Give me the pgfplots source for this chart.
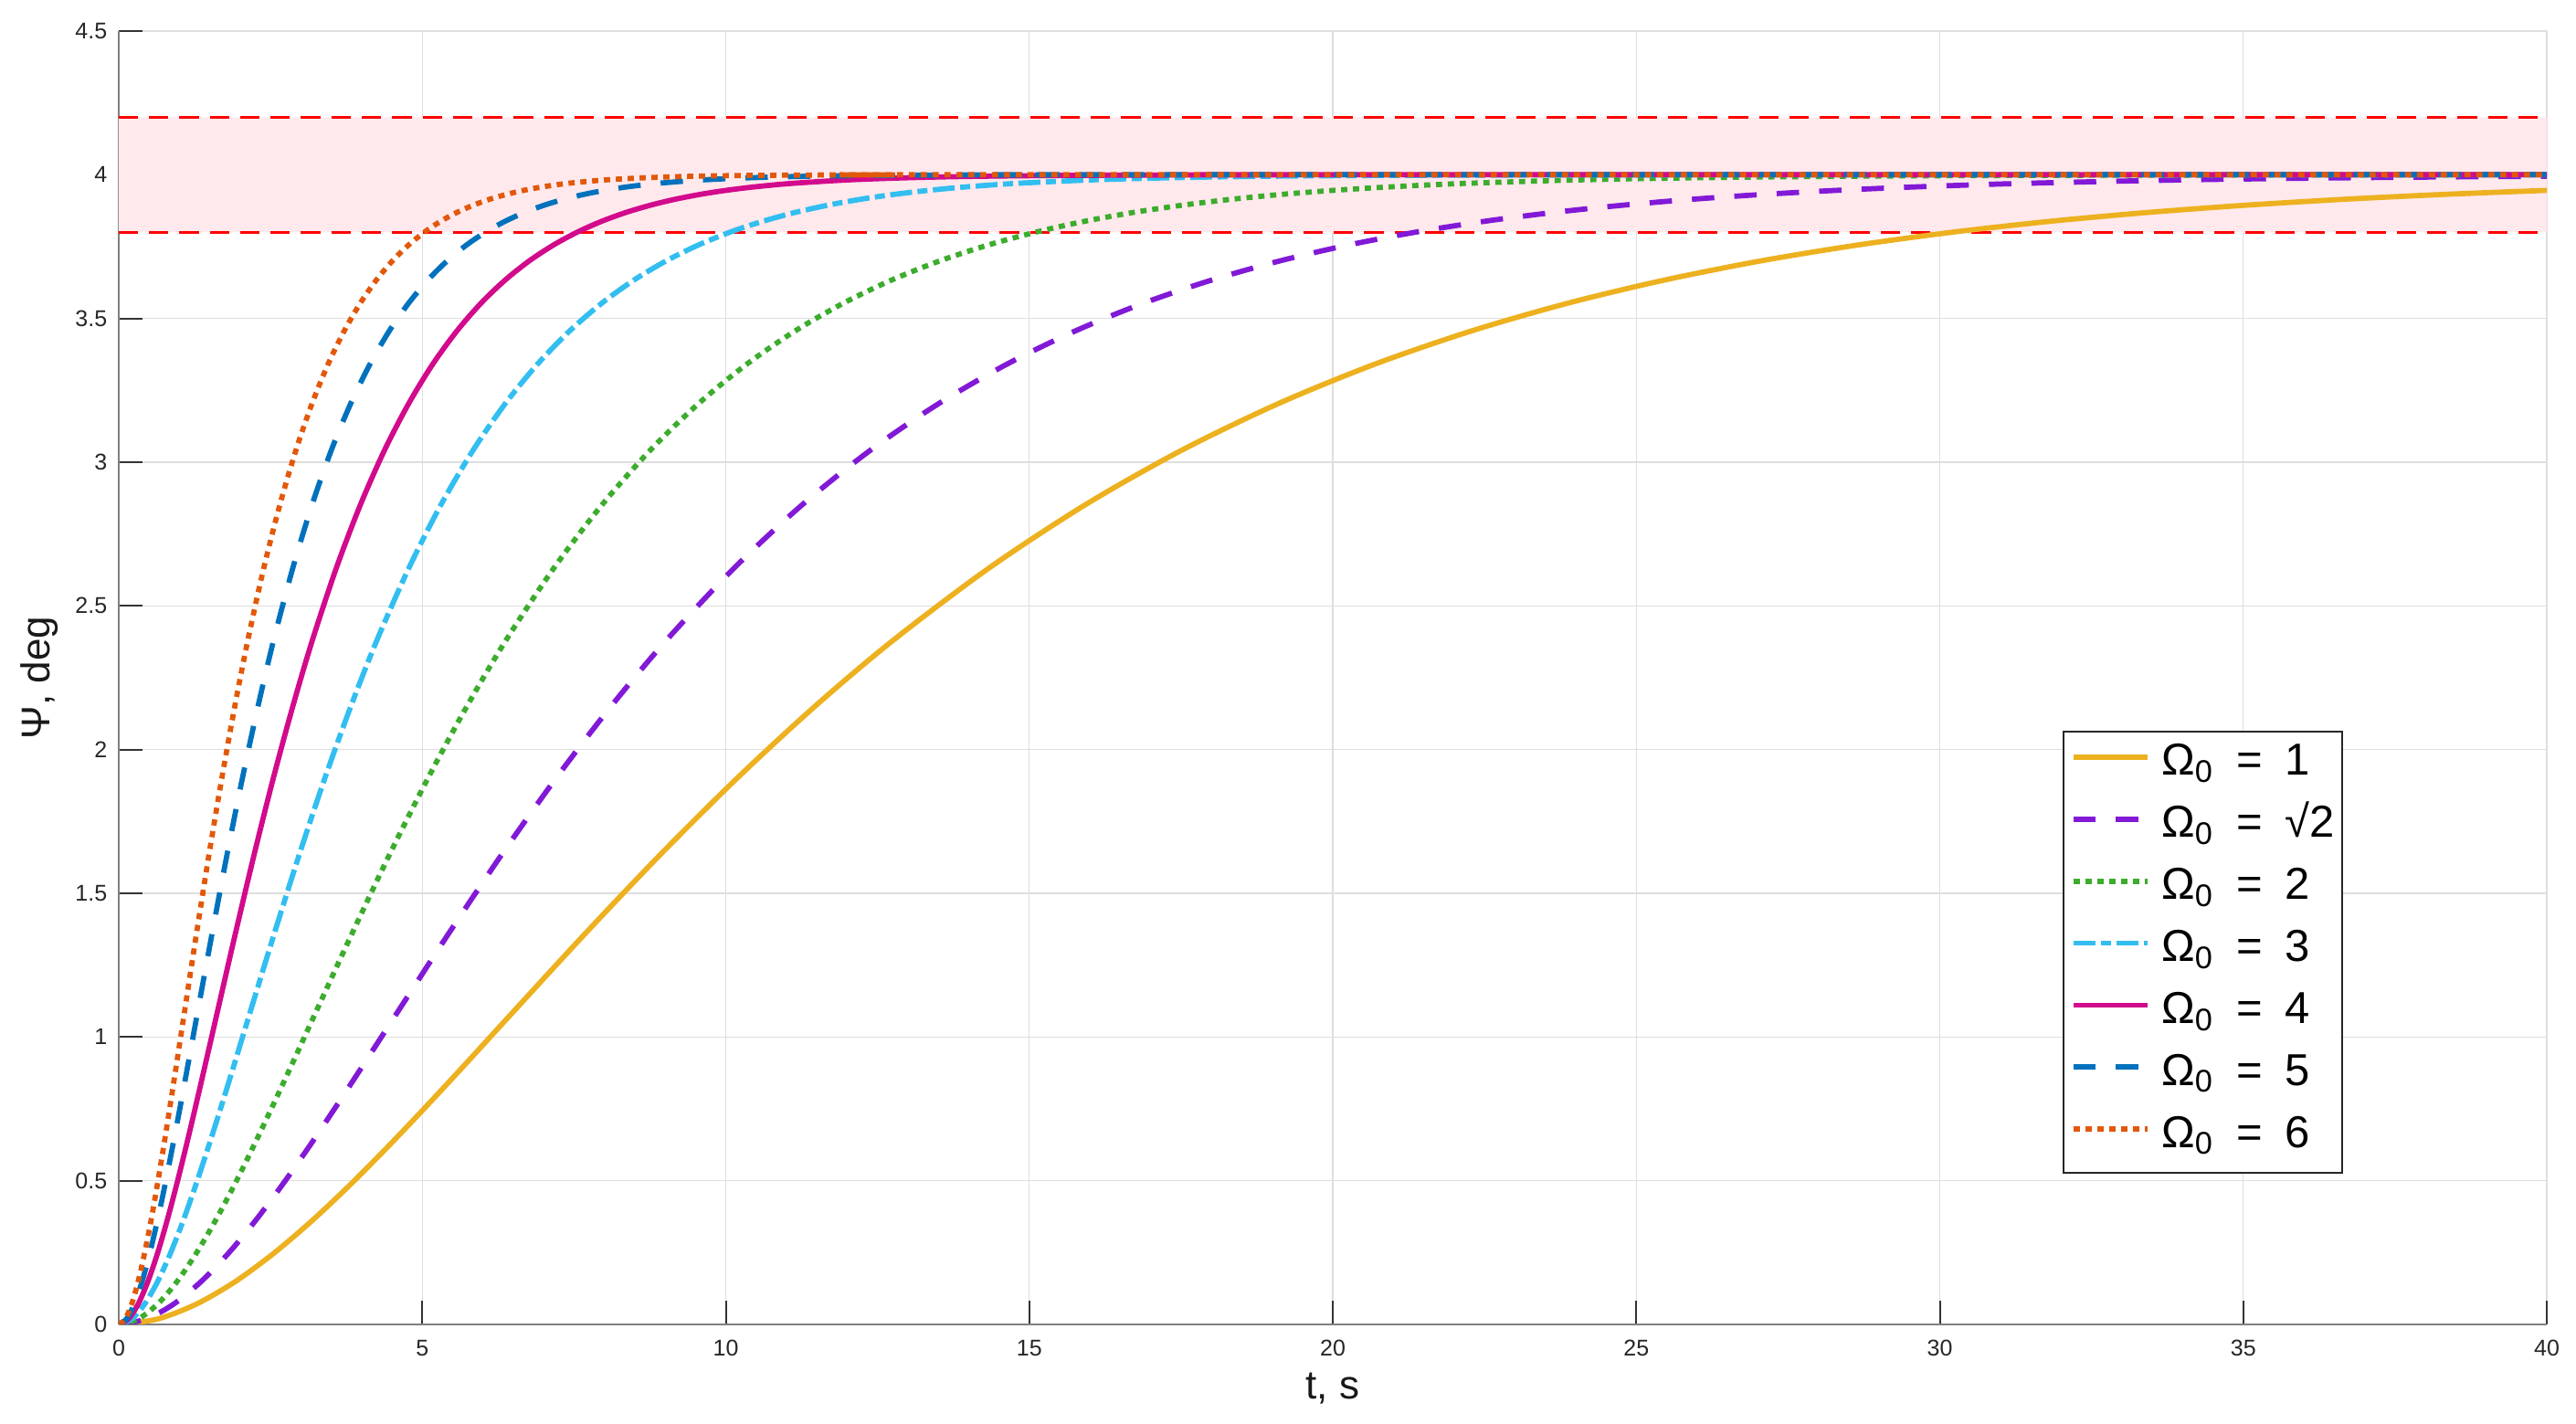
\documentclass[border=0pt]{standalone}
\usepackage{fontspec}
\setmainfont{Liberation Sans}
\usepackage{pgfplots}
\usepackage{pgfplotstable}
\pgfplotsset{compat=1.18}

\definecolor{cY}{RGB}{237,177,32}
\definecolor{cP}{RGB}{130,25,215}
\definecolor{cG}{RGB}{60,172,45}
\definecolor{cC}{RGB}{50,190,240}
\definecolor{cM}{RGB}{210,10,140}
\definecolor{cB}{RGB}{0,114,189}
\definecolor{cO}{RGB}{226,88,10}
\definecolor{band}{RGB}{255,233,236}

% psi and the time columns for Omega_0 = 1, sqrt2, 2, 3, 4, 5, 6
\pgfplotstableread{
psi    t1      t2      t3      t4      t5      t6      t7
0      0       0       0       0       0       0       0
0.0187 0.637   0.450   0.318   0.212   0.159   0.127   0.106
0.0701 1.273   0.900   0.637   0.424   0.318   0.255   0.212
0.1477 1.910   1.350   0.955   0.637   0.477   0.382   0.318
0.2462 2.546   1.801   1.273   0.849   0.637   0.509   0.424
0.3608 3.183   2.251   1.592   1.061   0.796   0.637   0.531
0.4876 3.820   2.701   1.910   1.273   0.955   0.764   0.637
0.6232 4.456   3.151   2.228   1.485   1.114   0.891   0.743
0.7648 5.093   3.601   2.546   1.698   1.273   1.019   0.849
0.9101 5.730   4.051   2.865   1.910   1.432   1.146   0.955
1.0570 6.366   4.502   3.183   2.122   1.592   1.273   1.061
1.3495 7.639   5.402   3.820   2.547   1.910   1.528   1.273
1.6327 8.913   6.302   4.456   2.971   2.228   1.782   1.485
1.9003 10.186  7.203   5.093   3.395   2.546   2.037   1.698
2.1487 11.459  8.103   5.730   3.820   2.865   2.292   1.910
2.3760 12.732  9.003   6.366   4.244   3.183   2.546   2.122
2.6298 14.324  10.129  7.162   4.775   3.581   2.865   2.387
2.8508 15.915  11.254  7.958   5.305   3.979   3.183   2.653
3.0411 17.507  12.379  8.754   5.836   4.377   3.501   2.918
3.2034 19.099  13.505  9.549   6.366   4.775   3.820   3.183
3.3408 20.690  14.630  10.345  6.897   5.172   4.138   3.448
3.4564 22.282  15.756  11.141  7.427   5.570   4.456   3.714
3.5532 23.873  16.881  11.937  7.958   5.968   4.775   3.979
3.6337 25.465  18.006  12.732  8.488   6.366   5.093   4.244
3.7005 27.056  19.132  13.528  9.019   6.764   5.411   4.509
3.7556 28.648  20.257  14.324  9.549   7.162   5.729   4.775
3.8010 30.239  21.383  15.120  10.080  7.560   6.048   5.040
3.8383 31.831  22.508  15.916  10.611  7.958   6.366   5.305
3.8688 33.423  23.633  16.711  11.141  8.355   6.684   5.570
3.8937 35.014  24.759  17.507  11.672  8.753   7.003   5.836
3.9141 36.606  25.884  18.303  12.202  9.151   7.321   6.101
3.9306 38.197  27.010  19.099  12.733  9.549   7.639   6.366
3.9440 39.789  28.135  19.894  13.263  9.947   7.958   6.631
3.9549 41.380  29.260  20.690  13.794  10.345  8.276   6.897
3.9637 42.972  30.386  21.486  14.324  10.743  8.594   7.162
3.9708 44.563  31.511  22.282  14.855  11.141  8.912   7.427
3.9812 47.747  33.762  23.873  15.916  11.936  9.549   7.958
3.9879 50.930  36.013  25.465  16.977  12.732  10.186  8.488
3.9923 54.113  38.264  27.056  18.038  13.528  10.822  9.019
3.9951 57.296  40.514  28.648  19.099  14.324  11.459  9.549
3.9969 60.479  42.765  30.239  20.160  15.119  12.095  10.080
3.9980 63.662  45.016  31.831  21.221  15.915  12.732  10.610
3.9992 70.028  49.518  35.014  23.343  17.507  14.005  11.671
3.9997 76.394  54.019  38.197  25.465  19.098  15.278  12.732
4.0000 95.493  67.524  47.747  31.832  23.873  19.098  15.915
4.0000 381.97  270.10  190.99  127.33  95.49   76.39   63.66
}\datatab

\begin{document}
\begin{tikzpicture}
\begin{axis}[
  scale only axis,
  width=1063.2pt, height=566.4pt,
  xmin=0, xmax=40, ymin=0, ymax=4.5,
  xtick={0,5,...,40}, ytick={0,0.5,...,4.5},
  grid=major,
  major grid style={black!13, line width=0.5pt},
  axis x line*=bottom, axis y line*=left,
  axis line style={black!50, line width=0.8pt, -},
  tick align=inside,
  major tick length=10.4pt,
  tick style={black!80, line width=0.8pt},
  /pgf/number format/assume math mode=true,
  ticklabel style={font=\fontsize{10}{12}\selectfont, text=black!85},
  xticklabel style={yshift=-3.4pt},
  yticklabel style={xshift=-1.6pt},
  xlabel={t, s},
  ylabel={Ψ, deg},
  label style={font=\fontsize{17.6}{21}\selectfont, text=black!90},
  xlabel style={at={([yshift=-28pt]axis description cs:0.5,0)}, anchor=center},
  ylabel style={at={([xshift=-34.8pt]axis description cs:0,0.5)}, anchor=center},
  legend style={at={(0.8006,0.459)}, anchor=north west,
    draw=black!85, line width=0.8pt, fill=white,
    font=\fontsize{19.6}{23}\selectfont,
    inner xsep=3.2pt, inner ysep=5pt, row sep=6.85pt, column sep=5pt,
    nodes={inner sep=0pt, text height=14.1pt, text depth=6.2pt}},
  legend cell align=left,
  legend image code/.code={\draw[#1] (0pt,4pt) -- (32.4pt,4pt);},
  clip=true,
]
% tolerance band
\addplot[draw=none, fill=band, forget plot] coordinates {(0,3.8) (40,3.8) (40,4.2) (0,4.2) (0,3.8)};
\addplot[red, line width=1.2pt, dash pattern=on 8.5pt off 4.8pt, forget plot] coordinates {(0,3.8) (40,3.8)};
\addplot[red, line width=1.2pt, dash pattern=on 8.5pt off 4.8pt, forget plot] coordinates {(0,4.2) (40,4.2)};

\addplot[cY, line width=2.3pt, smooth, line join=round] table[x=t1, y=psi] {\datatab};
\addlegendentry{Ω\textsubscript{0}\hspace{10pt}=\hspace{10pt}1}
\addplot[cP, line width=2.3pt, smooth, dash pattern=on 9.8pt off 8.8pt] table[x=t2, y=psi] {\datatab};
\addlegendentry{Ω\textsubscript{0}\hspace{10pt}=\hspace{10pt}√2}
\addplot[cG, line width=2.3pt, smooth, dash pattern=on 2.7pt off 2.5pt] table[x=t3, y=psi] {\datatab};
\addlegendentry{Ω\textsubscript{0}\hspace{10pt}=\hspace{10pt}2}
\addplot[cC, line width=2.3pt, smooth, dash pattern=on 9.6pt off 2.4pt on 4.4pt off 2.4pt] table[x=t4, y=psi] {\datatab};
\addlegendentry{Ω\textsubscript{0}\hspace{10pt}=\hspace{10pt}3}
\addplot[cM, line width=2.3pt, smooth, line join=round] table[x=t5, y=psi] {\datatab};
\addlegendentry{Ω\textsubscript{0}\hspace{10pt}=\hspace{10pt}4}
\addplot[cB, line width=2.3pt, smooth, dash pattern=on 9.8pt off 8.8pt] table[x=t6, y=psi] {\datatab};
\addlegendentry{Ω\textsubscript{0}\hspace{10pt}=\hspace{10pt}5}
\addplot[cO, line width=2.3pt, smooth, dash pattern=on 2.7pt off 2.5pt] table[x=t7, y=psi] {\datatab};
\addlegendentry{Ω\textsubscript{0}\hspace{10pt}=\hspace{10pt}6}
\end{axis}
\pgfresetboundingbox
\path (-52pt,-43.6pt) rectangle (1076pt,580pt);
\end{tikzpicture}
\end{document}
